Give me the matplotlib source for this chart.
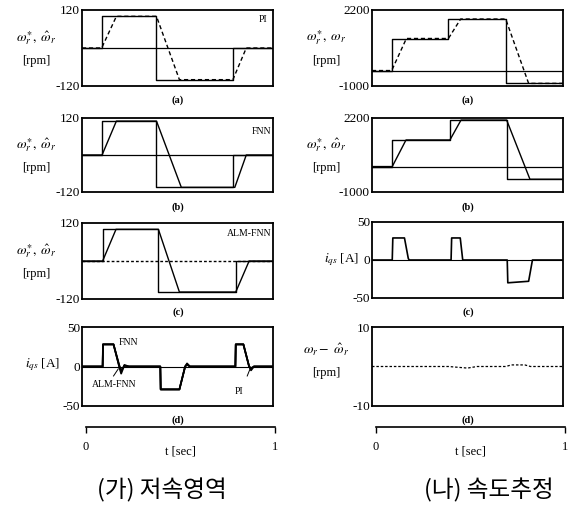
import matplotlib
matplotlib.use("Agg")
import matplotlib.pyplot as plt
import numpy as np

plt.rcParams['font.family'] = ['Liberation Serif', 'DejaVu Serif']
plt.rcParams['mathtext.fontset'] = 'stix'

W, H = 572, 508

# ---------------- data ----------------
# Low-speed region (left column): speed reference / estimate [rpm]
low_ref_t = [0.0, 0.105, 0.105, 0.39, 0.39, 0.79, 0.79, 1.0]
low_ref_a = [0, 0, 100, 100, -100, -100, 0, 0]
low_ref_b = [0, 0, 110, 110, -105, -105, 0, 0]
low_ref_c = [0, 0, 100, 100, -98, -98, 0, 0]
low_est_t_a = [0.0, 0.103, 0.18, 0.39, 0.51, 0.79, 0.86, 1.0]
low_est_t_b = [0.0, 0.105, 0.18, 0.39, 0.52, 0.80, 0.86, 1.0]
low_est_t_c = [0.0, 0.108, 0.178, 0.40, 0.51, 0.805, 0.875, 1.0]
low_ref_t_c = [0.0, 0.108, 0.108, 0.40, 0.40, 0.805, 0.805, 1.0]
low_est_a = [0, 0, 100, 100, -100, -100, 0, 0]
low_est_b = [0, 0, 110, 110, -105, -105, 0, 0]
low_est_c = [0, 0, 100, 100, -98, -98, 0, 0]

# Low-speed q-axis current [A]
iqs_low_t = [0.0, 0.108, 0.110, 0.165, 0.195, 0.205, 0.222, 0.245, 0.41, 0.412,
             0.51, 0.54, 0.55, 0.565, 0.803, 0.805, 0.845, 0.875, 0.885, 0.90, 1.0]
iqs_alm = [0, 0, 28, 28, 0, -9, 2, 0, 0, -29, -29, 0, 3, 0, 0, 28, 28, 0, -3, 0, 0]
iqs_fnn = [0, 0, 28, 28, 2, -5, 1, 0, 0, -29, -29, 0, 2, 0, 0, 28, 28, 0, -2, 0, 0]
iqs_pi = [0, 0, 28, 28, 0, -6, 1, 0, 0, -29, -29, 0, 4, 0, 0, 28, 28, 0, -5, 0, 0]

# Speed-estimation test (right column) [rpm]
hi_ref_t_a = [0.0, 0.103, 0.103, 0.40, 0.40, 0.70, 0.70, 1.0]
hi_ref_a = [-350, -350, 1000, 1000, 1820, 1820, -890, -890]
hi_est_t_a = [0.0, 0.103, 0.18, 0.40, 0.464, 0.70, 0.82, 1.0]
hi_est_a = [-350, -350, 1000, 1000, 1820, 1820, -890, -890]
hi_base_a = -350
hi_ref_t_b = [0.0, 0.106, 0.106, 0.408, 0.408, 0.705, 0.705, 1.0]
hi_ref_b = [100, 100, 1250, 1250, 2110, 2110, -450, -450]
hi_est_t_b = [0.0, 0.106, 0.178, 0.408, 0.466, 0.705, 0.827, 1.0]
hi_est_b = [100, 100, 1250, 1250, 2110, 2110, -450, -450]
hi_base_b = 100

iqs_hi_t = [0.0, 0.106, 0.109, 0.17, 0.19, 0.195, 0.414, 0.417, 0.462, 0.475,
            0.708, 0.711, 0.82, 0.84, 1.0]
iqs_hi = [0, 0, 29, 29, 2, 0, 0, 29, 29, 0, 0, -30, -28, 0, 0]

err_t = [0.0, 0.40, 0.45, 0.50, 0.55, 0.70, 0.73, 0.80, 0.83, 1.0]
err_v = [0, 0, -0.2, -0.4, 0, 0, 0.4, 0.4, 0, 0]

# ---------------- layout helpers ----------------
fig = plt.figure(figsize=(W / 100, H / 100), dpi=100)


def add_ax(x0, y0, x1, y1):
    return fig.add_axes([x0 / W, 1 - y1 / H, (x1 - x0) / W, (y1 - y0) / H])


def ftext(x, y, s, **kw):
    fig.text(x / W, 1 - y / H, s, **kw)


def style(ax, ylim, ticks):
    ax.set_xlim(0, 1)
    ax.set_ylim(*ylim)
    ax.set_xticks([])
    ax.set_yticks(ticks)
    ax.set_yticklabels([f"{v:g}" for v in ticks], fontsize=9.5)
    ax.tick_params(axis='y', length=0, pad=1.5)
    for s in ax.spines.values():
        s.set_linewidth(1.3)
        s.set_color('black')


LX0, LX1 = 82, 273
RX0, RX1 = 372, 563
rows = [(10, 86), (118, 192), (223, 299), (327, 406)]
lw = 1.0

# ---------- left column ----------
axa = add_ax(LX0, rows[0][0], LX1, rows[0][1])
style(axa, (-120, 120), [-120, 120])
axa.axhline(0, color='k', lw=0.9)
axa.plot(low_ref_t, low_ref_a, color='k', lw=lw)
axa.plot(low_est_t_a, low_est_a, color='k', lw=lw, ls=(0, (3, 2)))
axa.text(0.97, 0.88, 'PI', transform=axa.transAxes, ha='right', va='center', fontsize=7)

axb = add_ax(LX0, rows[1][0], LX1, rows[1][1])
style(axb, (-120, 120), [-120, 120])
axb.axhline(0, color='k', lw=0.9)
axb.plot(low_ref_t, low_ref_b, color='k', lw=lw)
axb.plot(low_est_t_b, low_est_b, color='k', lw=lw)
axb.text(0.99, 0.82, 'FNN', transform=axb.transAxes, ha='right', va='center', fontsize=7)

axc = add_ax(LX0, rows[2][0], LX1, rows[2][1])
style(axc, (-120, 120), [-120, 120])
axc.axhline(0, color='k', lw=1.0, ls=(0, (2, 1.5)))
axc.plot(low_ref_t_c, low_ref_c, color='k', lw=lw)
axc.plot(low_est_t_c, low_est_c, color='k', lw=lw)
axc.text(0.99, 0.86, 'ALM-FNN', transform=axc.transAxes, ha='right', va='center', fontsize=7)

axd = add_ax(LX0, rows[3][0], LX1, rows[3][1])
style(axd, (-50, 50), [-50, 0, 50])
axd.axhline(0, color='k', lw=0.8)
axd.plot(iqs_low_t, iqs_pi, color='k', lw=1.2)
axd.plot(iqs_low_t, iqs_fnn, color='k', lw=1.2)
axd.plot(iqs_low_t, iqs_alm, color='k', lw=1.3)
axd.text(0.19, 0.80, 'FNN', transform=axd.transAxes, ha='left', va='center', fontsize=7)
axd.text(0.05, 0.27, 'ALM-FNN', transform=axd.transAxes, ha='left', va='center', fontsize=7)
axd.text(0.80, 0.18, 'PI', transform=axd.transAxes, ha='left', va='center', fontsize=7)
axd.plot([0.165, 0.19], [-12, -3], color='k', lw=0.7)
axd.plot([0.865, 0.88], [-12, -3], color='k', lw=0.7)

# ---------- right column ----------
bxa = add_ax(RX0, rows[0][0], RX1, rows[0][1])
style(bxa, (-1000, 2200), [-1000, 2200])
bxa.axhline(hi_base_a, color='k', lw=0.9)
bxa.plot(hi_ref_t_a, hi_ref_a, color='k', lw=lw)
bxa.plot(hi_est_t_a, hi_est_a, color='k', lw=lw, ls=(0, (3, 2)))

bxb = add_ax(RX0, rows[1][0], RX1, rows[1][1])
style(bxb, (-1000, 2200), [-1000, 2200])
bxb.axhline(hi_base_b, color='k', lw=0.9)
bxb.plot(hi_ref_t_b, hi_ref_b, color='k', lw=lw)
bxb.plot(hi_est_t_b, hi_est_b, color='k', lw=lw)

bxc = add_ax(RX0, 222, RX1, 298)
style(bxc, (-50, 50), [-50, 0, 50])
bxc.axhline(0, color='k', lw=0.8)
bxc.plot(iqs_hi_t, iqs_hi, color='k', lw=1.2)

bxd = add_ax(RX0, rows[3][0], RX1, rows[3][1])
style(bxd, (-10, 10), [-10, 10])
bxd.plot(err_t, err_v, color='k', lw=0.9, ls=(0, (2, 1.5)))

# ---------- panel labels ----------
for cx in (178, 468):
    for lab, y in zip(['(a)', '(b)', '(c)', '(d)'], [100, 207, 312, 420]):
        ftext(cx, y, lab, ha='center', va='center', fontsize=7.5, weight='bold')

# ---------- y labels ----------
for (y0, y1) in rows[:3]:
    yc = (y0 + y1) / 2
    ftext(36, yc - 10, r'$\omega_r^{\ast},\ \hat{\omega}_r$', ha='center', va='center', fontsize=10)
    ftext(36, yc + 13, '[rpm]', ha='center', va='center', fontsize=9)

ftext(43, 365, r'$i_{qs}$ [A]', ha='center', va='center', fontsize=9.5)

yc = 48
ftext(326, yc - 10, r'$\omega_r^{\ast},\ \omega_r$', ha='center', va='center', fontsize=10)
ftext(326, yc + 13, '[rpm]', ha='center', va='center', fontsize=9)
yc = 155
ftext(326, yc - 10, r'$\omega_r^{\ast},\ \hat{\omega}_r$', ha='center', va='center', fontsize=10)
ftext(326, yc + 13, '[rpm]', ha='center', va='center', fontsize=9)
ftext(342, 260, r'$i_{qs}$ [A]', ha='center', va='center', fontsize=9.5)
ftext(326, 350, r'$\omega_r-\ \hat{\omega}_r$', ha='center', va='center', fontsize=10)
ftext(326, 373, '[rpm]', ha='center', va='center', fontsize=9)

# ---------- time axes ----------
for x0, x1 in ((86, 275), (376, 565)):
    tax = fig.add_axes([x0 / W, 1 - 427 / H, (x1 - x0) / W, 0.001])
    tax.set_xlim(0, 1)
    tax.set_yticks([])
    for s in ('left', 'right', 'top'):
        tax.spines[s].set_visible(False)
    tax.spines['bottom'].set_linewidth(1.2)
    tax.set_xticks([0, 1])
    tax.set_xticklabels(['0', '1'], fontsize=9)
    tax.tick_params(axis='x', length=4, width=1.0, pad=6)
    tax.set_xlabel('t [sec]', fontsize=9, labelpad=-5)

# ---------- captions ----------
kfont = ['Noto Sans CJK KR', 'DejaVu Sans']
ftext(162, 490, '(가) 저속영역', ha='center', va='center', fontsize=17, family=kfont)
ftext(489, 490, '(나) 속도추정', ha='center', va='center', fontsize=17, family=kfont)

fig.savefig('out.png', dpi=100)
